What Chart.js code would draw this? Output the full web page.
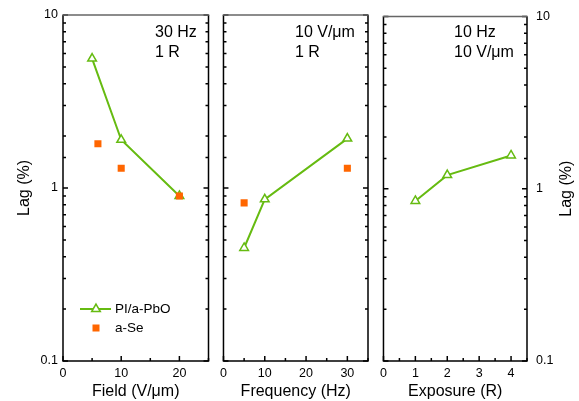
<!DOCTYPE html>
<html>
<head>
<meta charset="utf-8">
<script src="https://cdn.jsdelivr.net/npm/chart.js"></script>
<style>
  html, body { margin: 0; padding: 0; background: #fff; }
  #wrap { position: relative; width: 579px; height: 401px; overflow: hidden; }
  canvas { position: absolute; top: 0; }
</style>
</head>
<body>
<div id="wrap">
  <canvas id="c1" width="215" height="401" style="left:0px"></canvas>
  <canvas id="c2" width="160" height="401" style="left:215px"></canvas>
  <canvas id="c3" width="204" height="401" style="left:375px"></canvas>
</div>
<script>
// values
const fieldX = [5, 10, 20];
const fieldPbO = [5.6, 1.9, 0.9];
const fieldSeX = [6, 10, 20];
const fieldSe = [1.8, 1.3, 0.9];

const freqX = [5, 10, 30];
const freqPbO = [0.45, 0.86, 1.93];
const freqSeX = [5, 30];
const freqSe = [0.82, 1.3];

const expX = [1, 2, 4];
const expPbO = [0.85, 1.2, 1.56];

const yTickLabels = [0.1, 1, 10];
const fieldTickLabels = [0, 10, 20];
const freqTickLabels = [0, 10, 20, 30];
const expTickLabels = [0, 1, 2, 3, 4];

const notes = [["30 Hz", "1 R"], ["10 V/\u03bcm", "1 R"], ["10 Hz", "10 V/\u03bcm"]];
const seriesNames = ["PI/a-PbO", "a-Se"];

const FONT = 'Arial, "Liberation Sans", sans-serif';
const GREEN = "#66bb11";
const ORANGE = "#ff6600";

const pts = (xs, ys) => xs.map((x, i) => ({ x: x, y: ys[i] }));
const isLabel = (list, v) => list.some(l => Math.abs(l - v) < 1e-6 * Math.max(1, Math.abs(l)));

const pboSet = (data) => ({
  label: seriesNames[0], data: data, order: 1,
  borderColor: GREEN, borderWidth: 2,
  pointStyle: "triangle", pointRadius: 5, pointBorderWidth: 1.5,
  pointBorderColor: GREEN, pointBackgroundColor: "#fff"
});
const seSet = (data) => ({
  label: seriesNames[1], data: data, order: 0, showLine: false,
  borderColor: ORANGE, backgroundColor: ORANGE,
  pointStyle: "rect", pointRadius: 5, pointBorderWidth: 0,
  pointBorderColor: ORANGE, pointBackgroundColor: ORANGE
});

// box, inward ticks and the text note in the top right
const framePlugin = {
  id: "frame",
  afterDraw(chart, args, opts) {
    const ctx = chart.ctx;
    const a = chart.chartArea;
    const xs = chart.scales.x, ys = chart.scales.y;
    ctx.save();
    ctx.lineWidth = 1.5;
    ctx.strokeStyle = "#000";
    // ticks
    ctx.beginPath();
    ys.ticks.forEach(t => {
      const py = ys.getPixelForValue(t.value);
      const len = isLabel(yTickLabels, t.value) ? 5 : 3;
      ctx.moveTo(a.left, py); ctx.lineTo(a.left + len, py);
      ctx.moveTo(a.right, py); ctx.lineTo(a.right - len, py);
    });
    xs.ticks.forEach(t => {
      const px = xs.getPixelForValue(t.value);
      const len = isLabel(opts.xLabels, t.value) ? 5 : 3;
      ctx.moveTo(px, a.bottom); ctx.lineTo(px, a.bottom - len);
    });
    ctx.stroke();
    // frame
    ctx.beginPath();
    ctx.moveTo(a.left, a.top); ctx.lineTo(a.left, a.bottom);
    ctx.lineTo(a.right, a.bottom); ctx.lineTo(a.right, a.top);
    ctx.stroke();
    ctx.strokeStyle = "#666";
    ctx.beginPath();
    ctx.moveTo(a.left - 0.75, a.top); ctx.lineTo(a.right + 0.75, a.top);
    ctx.stroke();
    // note
    ctx.fillStyle = "#000";
    ctx.font = "16px " + FONT;
    ctx.textBaseline = "middle";
    ctx.textAlign = "left";
    opts.note.forEach((line, i) => ctx.fillText(line, opts.noteX, 33 + i * 20));
    // right-hand axis title reading upwards
    if (opts.rightTitle) {
      ctx.translate(opts.rightTitleX, (a.top + a.bottom) / 2);
      ctx.rotate(-Math.PI / 2);
      ctx.textAlign = "center";
      ctx.fillText(opts.rightTitle, 0, 0);
    }
    ctx.restore();
  }
};

// legend inside the first panel
const legendPlugin = {
  id: "insideLegend",
  afterDraw(chart, args, opts) {
    if (!opts.show) return;
    const ctx = chart.ctx;
    const ds = chart.data.datasets;
    ctx.save();
    ctx.font = "13.5px " + FONT;
    ctx.textBaseline = "middle";
    ctx.fillStyle = "#000";
    ds.forEach((d, i) => {
      const y = 309 + i * 19;
      const cx = 96;
      if (d.pointStyle === "triangle") {
        ctx.strokeStyle = GREEN; ctx.lineWidth = 2;
        ctx.beginPath(); ctx.moveTo(80, y); ctx.lineTo(111, y); ctx.stroke();
        const r = 5;
        ctx.beginPath();
        ctx.moveTo(cx, y - r);
        ctx.lineTo(cx + r * Math.sin(2 * Math.PI / 3), y - r * Math.cos(2 * Math.PI / 3));
        ctx.lineTo(cx + r * Math.sin(4 * Math.PI / 3), y - r * Math.cos(4 * Math.PI / 3));
        ctx.closePath();
        ctx.fillStyle = "#fff"; ctx.fill();
        ctx.lineWidth = 1.5; ctx.stroke();
      } else {
        ctx.fillStyle = ORANGE;
        ctx.fillRect(cx - 3.5, y - 3.5, 7, 7);
      }
      ctx.fillStyle = "#000";
      ctx.fillText(d.label, 115, y);
    });
    ctx.restore();
  }
};

function makePanel(id, cfg) {
  const yPos = cfg.yPos;
  return new Chart(document.getElementById(id), {
    type: "line",
    data: { datasets: cfg.datasets },
    options: {
      responsive: false,
      animation: false,
      devicePixelRatio: 1,
      layout: { padding: cfg.padding },
      plugins: {
        legend: { display: false },
        tooltip: { enabled: false },
        frame: { xLabels: cfg.xLabels, note: cfg.note, noteX: cfg.noteX,
                 rightTitle: cfg.rightTitle, rightTitleX: cfg.rightTitleX },
        insideLegend: { show: !!cfg.legend }
      },
      scales: {
        x: {
          type: "linear", min: cfg.xMin, max: cfg.xMax,
          grid: { display: false, drawTicks: false },
          border: { display: false },
          ticks: {
            stepSize: cfg.xStep, autoSkip: false, maxRotation: 0, padding: 5,
            color: "#000", font: { family: FONT, size: 12.5 },
            callback: v => isLabel(cfg.xLabels, v) ? String(v) : ""
          },
          title: { display: true, text: cfg.xTitle, color: "#000",
                   font: { family: FONT, size: 16 }, padding: { top: 1, bottom: 0 } },
          afterFit: s => { s.height = 40; }
        },
        y: {
          type: "logarithmic", min: 0.1, max: 10, position: yPos === "right" ? "right" : "left",
          grid: { display: false, drawTicks: false },
          border: { display: false },
          ticks: {
            autoSkip: false, padding: yPos === "right" ? 9 : 5,
            color: "#000", font: { family: FONT, size: 12.5 },
            callback: v => (yPos !== "none" && isLabel(yTickLabels, v)) ? String(v) : ""
          },
          title: { display: yPos === "left", text: "Lag (%)", color: "#000",
                   font: { family: FONT, size: 16 }, padding: { top: 15, bottom: 0 } },
          afterFit: s => { s.width = cfg.yWidth; }
        }
      }
    },
    plugins: [framePlugin, legendPlugin]
  });
}

makePanel("c1", {
  datasets: [pboSet(pts(fieldX, fieldPbO)), seSet(pts(fieldSeX, fieldSe))],
  xMin: 0, xMax: 25, xStep: 5, xLabels: fieldTickLabels, xTitle: "Field (V/\u03bcm)",
  yPos: "left", yWidth: 63, padding: { top: 15, right: 6, left: 0, bottom: 0 },
  note: notes[0], noteX: 155, legend: true
});

makePanel("c2", {
  datasets: [pboSet(pts(freqX, freqPbO)), seSet(pts(freqSeX, freqSe))],
  xMin: 0, xMax: 35, xStep: 5, xLabels: freqTickLabels, xTitle: "Frequency (Hz)",
  yPos: "none", yWidth: 0, padding: { top: 15, right: 7, left: 7, bottom: 0 },
  note: notes[1], noteX: 80
});

makePanel("c3", {
  datasets: [pboSet(pts(expX, expPbO))],
  xMin: 0, xMax: 4.5, xStep: 0.5, xLabels: expTickLabels, xTitle: "Exposure (R)",
  yPos: "right", yWidth: 52, padding: { top: 15, right: 0, left: 6, bottom: 0 },
  note: notes[2], noteX: 79, rightTitle: "Lag (%)", rightTitleX: 192
});
</script>
</body>
</html>
